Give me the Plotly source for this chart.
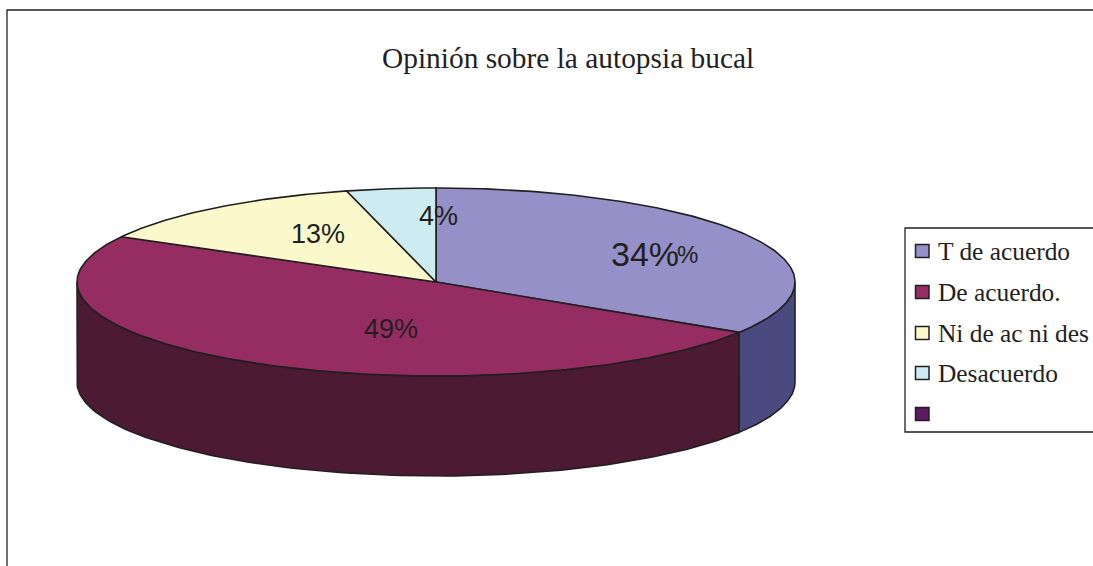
import numpy as np
import plotly.graph_objects as go

title = "Opinión sobre la autopsia bucal"
categories = ["T de acuerdo", "De acuerdo.", "Ni de ac ni des", "Desacuerdo", ""]
shares = [34, 49, 13, 4, 0]
labels = ["34%", "49%", "13%", "4%"]
top_colors = ["#9591C8", "#962D62", "#FBF9CC", "#CDECF2", "#5F1A66"]
wall_colors = ["#4A4A80", "#4D1A33", "#7D7C66", "#667679", "#300D33"]

W, H = 1093, 566
CX, CY, RX, RY, DEPTH = 436, 282, 359, 94, 100
INK = "#231F20"

def pt(t, dy=0):
    return CX + RX * np.sin(t), CY - RY * np.cos(t) + dy

fig = go.Figure()
bounds = np.cumsum([0] + shares) / sum(shares) * 2 * np.pi

# outer walls: only the front half of the rim (90deg..270deg) is visible
for i in range(len(shares)):
    a, b = max(bounds[i], np.pi / 2), min(bounds[i + 1], 3 * np.pi / 2)
    if b <= a:
        continue
    t = np.linspace(a, b, 120)
    x1, y1 = pt(t)
    x2, y2 = pt(t[::-1], DEPTH)
    fig.add_trace(go.Scatter(x=np.r_[x1, x2, x1[0]], y=np.r_[y1, y2, y1[0]], mode="lines",
                             fill="toself", fillcolor=wall_colors[i],
                             line=dict(color=INK, width=1.6), hoverinfo="skip"))

# top face slices
for i in range(len(shares)):
    if shares[i] == 0:
        continue
    t = np.linspace(bounds[i], bounds[i + 1], 200)
    x, y = pt(t)
    fig.add_trace(go.Scatter(x=np.r_[CX, x, CX], y=np.r_[CY, y, CY], mode="lines",
                             fill="toself", fillcolor=top_colors[i],
                             line=dict(color=INK, width=1.6), hoverinfo="skip"))

ann = []
def text(x, y, s, size, fam="Liberation Sans", anchor="center"):
    ann.append(dict(x=x, y=y, text=s, showarrow=False, xanchor=anchor, yanchor="middle",
                    font=dict(family=fam, size=size, color=INK)))

text(568, 58, title, 29.4, "Liberation Serif")
# data labels; the first one is doubled in the source
text(645, 254, labels[0], 34)
text(687, 254, labels[0][-1], 24)
text(391, 329, labels[1], 27)
text(318, 234, labels[2], 27)
text(438, 216, labels[3], 27)

shapes = [
    dict(type="rect", x0=7, y0=10, x1=W + 20, y1=H + 20, line=dict(color=INK, width=1.3), layer="below"),
    dict(type="rect", x0=905, y0=228, x1=W + 20, y1=432, line=dict(color=INK, width=1.3)),
]
legend_ys = [251, 292, 333, 373, 414]
for ly, c, name in zip(legend_ys, top_colors, categories):
    shapes.append(dict(type="rect", x0=915.5, x1=929, y0=ly - 6.5, y1=ly + 6.5,
                       fillcolor=c, line=dict(color=INK, width=1.5)))
    if name:
        text(936, ly, name, 25.4, "Liberation Serif", "left")

fig.update_layout(
    width=W, height=H, margin=dict(l=0, r=0, t=0, b=0), showlegend=False,
    paper_bgcolor="white", plot_bgcolor="white",
    xaxis=dict(range=[0, W], visible=False, fixedrange=True),
    yaxis=dict(range=[H, 0], visible=False, fixedrange=True),
    annotations=ann, shapes=shapes,
)
fig.write_html("out.html", config=dict(displayModeBar=False),
               post_script="document.body.style.margin='0';document.body.style.overflow='hidden';")
